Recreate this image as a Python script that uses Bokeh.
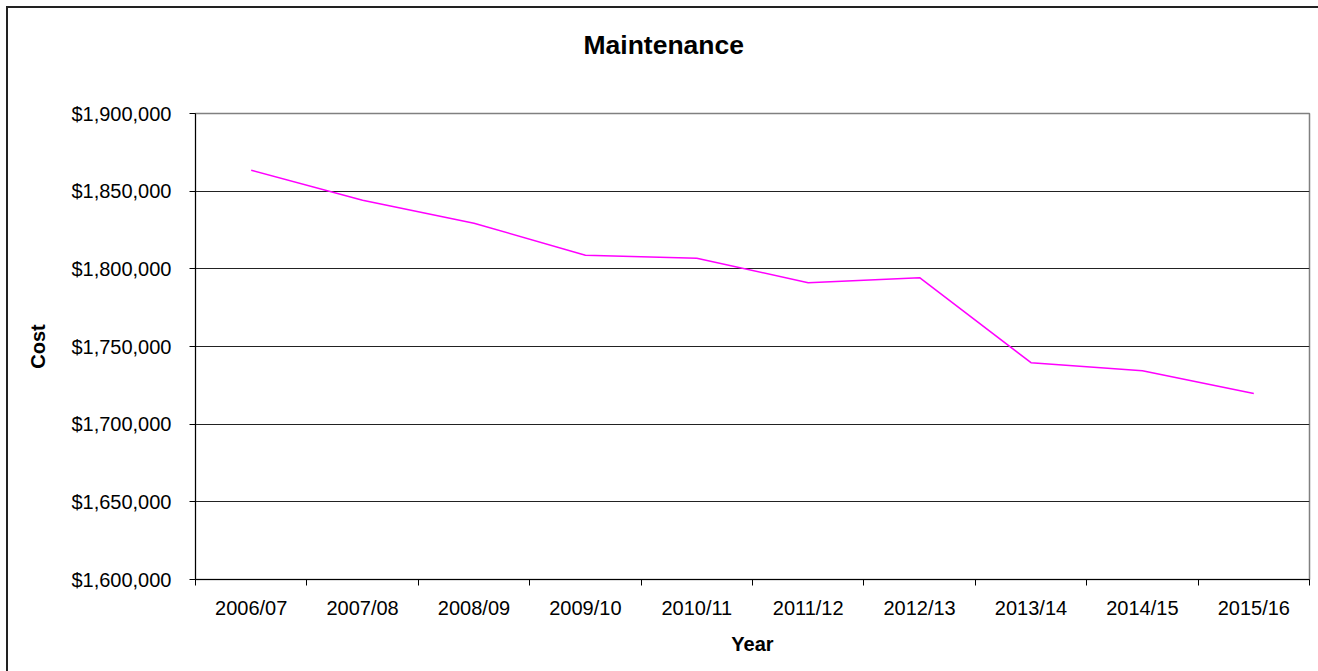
from bokeh.plotting import figure
from bokeh.models import Range1d, FixedTicker, NumeralTickFormatter, Title
from bokeh.embed import file_html
from bokeh.resources import INLINE

years = ["2006/07", "2007/08", "2008/09", "2009/10", "2010/11",
         "2011/12", "2012/13", "2013/14", "2014/15", "2015/16"]
cost = [1863500, 1844200, 1829400, 1808800, 1806800,
        1791100, 1794300, 1739600, 1734400, 1719800]
y_ticks = [1600000, 1650000, 1700000, 1750000, 1800000, 1850000, 1900000]

FONT = "Liberation Sans"
x = [i + 0.5 for i in range(len(years))]

p = figure(width=1318, height=671, output_backend="svg", toolbar_location=None,
           x_range=Range1d(0, len(years)), y_range=Range1d(y_ticks[0], y_ticks[-1]),
           min_border_left=195, min_border_right=9, min_border_top=0, min_border_bottom=92)
p.background_fill_color = "white"
p.border_fill_color = None
p.outline_line_color = "#808080"
p.outline_line_width = 1.5

# outer chart border: only its left and top edges fall inside the window
p.styles = {
    "background": ("linear-gradient(#222222, #222222) 6px 6px / 2px 100% no-repeat, "
                   "linear-gradient(#222222, #222222) 6px 6px / 100% 2px no-repeat, #ffffff"),
}

# data line
p.line(x, cost, line_color="#FF00FF", line_width=1.5)

# y axis
yax = p.yaxis[0]
yax.ticker = FixedTicker(ticks=y_ticks)
yax.formatter = NumeralTickFormatter(format="$0,0")
yax.major_tick_out = 6
yax.major_tick_in = 0
yax.minor_tick_line_color = None
yax.major_tick_line_color = "black"
yax.axis_line_color = "black"
yax.major_label_standoff = 18
yax.major_label_text_font = FONT
yax.major_label_text_font_size = "20px"
yax.major_label_text_color = "black"
yax.axis_label = "Cost"
yax.axis_label_text_font = FONT
yax.axis_label_text_font_size = "20px"
yax.axis_label_text_font_style = "bold"
yax.axis_label_text_color = "black"
yax.axis_label_standoff = 19

# x axis
xax = p.xaxis[0]
xax.ticker = FixedTicker(ticks=x, minor_ticks=list(range(len(years) + 1)))
xax.major_label_overrides = {xi: yr for xi, yr in zip(x, years)}
xax.major_tick_out = 0
xax.major_tick_in = 0
xax.major_tick_line_color = None
xax.minor_tick_out = 6
xax.minor_tick_in = 0
xax.minor_tick_line_color = "black"
xax.axis_line_color = "black"
xax.major_label_standoff = 11
xax.major_label_text_font = FONT
xax.major_label_text_font_size = "20px"
xax.major_label_text_color = "black"
xax.axis_label = "Year"
xax.axis_label_text_font = FONT
xax.axis_label_text_font_size = "20px"
xax.axis_label_text_font_style = "bold"
xax.axis_label_text_color = "black"
xax.axis_label_standoff = 11

# grid
p.xgrid.visible = False
p.ygrid.ticker = FixedTicker(ticks=y_ticks)
p.ygrid.grid_line_color = "#222222"
p.ygrid.grid_line_width = 1

# title (outermost) and a spacer between it and the plot area
p.title = Title(text="Maintenance", align="left", offset=388, vertical_align="top",
                standoff=58, text_font=FONT, text_font_size="26.5px",
                text_font_style="bold", text_color="black")
p.add_layout(Title(text=" ", text_font_size="1px", standoff=20), "above")

open("out.html", "w").write(file_html(p, INLINE))
